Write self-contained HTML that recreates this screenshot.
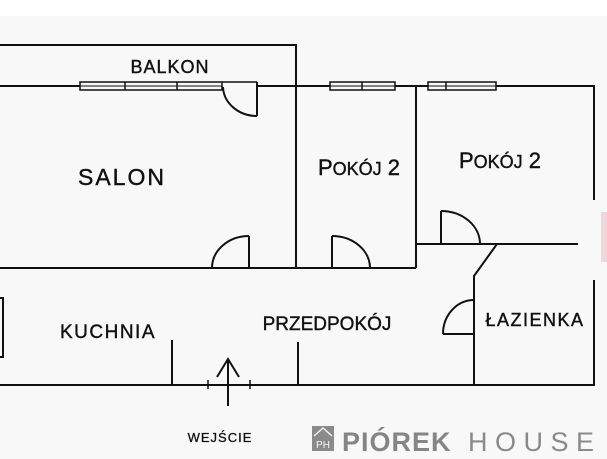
<!DOCTYPE html>
<html><head><meta charset="utf-8"><style>
html,body{margin:0;padding:0;background:#f8f8f8;}
svg{display:block}
text{font-family:"Liberation Sans",sans-serif;fill:#111;}
.t{stroke:#111;stroke-width:0.4;}
</style></head><body>
<svg width="607" height="459" viewBox="0 0 607 459" xmlns="http://www.w3.org/2000/svg">
<rect x="0" y="0" width="607" height="16" fill="#ffffff"/>
<rect x="0" y="16" width="607" height="443" fill="#f8f8f8"/>
<rect x="601" y="212" width="6" height="50" fill="#f3d6dc"/>
<g stroke="#111" stroke-width="2" fill="none">
<polyline points="0,45 296,45 296,268"/>
<line x1="0" y1="86" x2="80" y2="86"/>
<line x1="257" y1="86" x2="330" y2="86"/>
<line x1="395" y1="86" x2="428" y2="86"/>
<line x1="496" y1="86" x2="595" y2="86"/>
<rect x="80" y="82" width="142" height="8" stroke-width="1.5"/>
<line x1="80" y1="86" x2="222" y2="86" stroke-width="1"/>
<line x1="125" y1="82" x2="125" y2="90" stroke-width="1.5"/>
<line x1="177" y1="82" x2="177" y2="90" stroke-width="1.5"/>
<rect x="330" y="82" width="65" height="8" stroke-width="1.5"/>
<line x1="330" y1="86" x2="395" y2="86" stroke-width="1"/>
<line x1="362" y1="82" x2="362" y2="90" stroke-width="1.5"/>
<rect x="428" y="82" width="68" height="8" stroke-width="1.5"/>
<line x1="428" y1="86" x2="496" y2="86" stroke-width="1"/>
<line x1="446" y1="82" x2="446" y2="90" stroke-width="1.5"/>
<line x1="222" y1="82" x2="257" y2="82" stroke-width="1.5"/>
<line x1="257" y1="82" x2="257" y2="116"/>
<path d="M223,87 A34,30 0 0 0 257,116"/>
<line x1="594" y1="86" x2="594" y2="200"/>
<line x1="594" y1="280" x2="594" y2="386"/>
<line x1="0" y1="268" x2="416" y2="268"/>
<line x1="249" y1="236" x2="249" y2="268"/>
<path d="M212,268 A37,32 0 0 1 249,236"/>
<line x1="416" y1="86" x2="416" y2="268"/>
<line x1="332" y1="236" x2="332" y2="268"/>
<path d="M332,236 A38,32 0 0 1 370,268"/>
<line x1="416" y1="244" x2="578" y2="244"/>
<line x1="441" y1="211" x2="441" y2="244"/>
<path d="M441,211 A39,33 0 0 1 480,244"/>
<polyline points="497,244 474,276 474,385"/>
<line x1="443" y1="334" x2="474" y2="334"/>
<path d="M474,300 A31,34 0 0 0 443,334"/>
<rect x="-2" y="298" width="5" height="59"/>
<line x1="0" y1="385" x2="594" y2="385"/>
<line x1="172" y1="340" x2="172" y2="385"/>
<line x1="298" y1="342" x2="298" y2="385"/>
<line x1="208" y1="380" x2="208" y2="389" stroke-width="1.5"/>
<line x1="250" y1="380" x2="250" y2="389" stroke-width="1.5"/>
<line x1="228" y1="359" x2="228" y2="406"/>
<polyline points="217,377 228,359 239,377"/>
</g>
<text class="t" x="170" y="73" font-size="18" text-anchor="middle" letter-spacing="1">BALKON</text>
<text class="t" x="122" y="185" font-size="23" text-anchor="middle" letter-spacing="2">SALON</text>
<text class="t" x="359" y="175" font-size="22" text-anchor="middle">P<tspan font-size="18">OKÓJ</tspan> 2</text>
<text class="t" x="500" y="168" font-size="22" text-anchor="middle">P<tspan font-size="18">OKÓJ</tspan> 2</text>
<text class="t" x="108" y="338" font-size="19" text-anchor="middle" letter-spacing="1.5">KUCHNIA</text>
<text class="t" x="327" y="330" font-size="19" text-anchor="middle">PRZEDPOKÓJ</text>
<text class="t" x="535" y="326" font-size="18" text-anchor="middle" letter-spacing="1.5">ŁAZIENKA</text>
<text class="t" x="220" y="442" font-size="13" text-anchor="middle" letter-spacing="1" style="stroke-width:0.3">WEJŚCIE</text>
<rect x="312" y="426" width="22" height="25" fill="#8a8a8a"/>
<path d="M314,436 L323,428 L332,436" stroke="#f8f8f8" stroke-width="1.3" fill="none"/>
<text x="323" y="448" font-size="10" text-anchor="middle" style="fill:#f8f8f8">PH</text>
<text x="342" y="451" font-size="27" font-weight="bold" style="fill:#858585" letter-spacing="1">PIÓREK</text>
<text x="468" y="451" font-size="27" style="fill:#8a8a8a" letter-spacing="7.5">HOUSE</text>
</svg>
</body></html>
